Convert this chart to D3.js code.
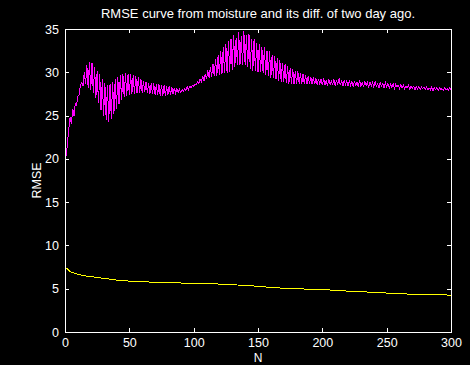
<!DOCTYPE html>
<html>
<head>
<meta charset="utf-8">
<script src="https://cdn.jsdelivr.net/npm/d3@7"></script>
<style>
  body { margin: 0; background: #000; }
  text { font-family: "Liberation Sans", Arial, sans-serif; fill: #fff; }
</style>
</head>
<body>
<div id="chart-area"></div>
<script>
var title = "RMSE curve from moisture and its diff. of two day ago.";
var xTicks = [0, 50, 100, 150, 200, 250, 300];
var yTicks = [0, 5, 10, 15, 20, 25, 30, 35];

// magenta series, one value per N = 1..300
var rmseDiff = [
    20.3, 22.0, 23.5, 24.8, 24.0, 25.8, 25.0, 26.4, 26.2, 27.2,
    27.4, 28.5, 28.8, 28.4, 30.0, 28.6, 30.8, 28.2, 31.2, 27.9,
    31.1, 27.6, 30.6, 27.0, 30.2, 26.4, 29.8, 25.6, 29.2, 25.0,
    28.8, 24.5, 28.5, 24.3, 28.6, 24.6, 28.9, 25.2, 29.2, 25.8,
    29.5, 26.3, 29.7, 26.8, 29.8, 27.1, 29.9, 27.3, 29.8, 27.4,
    29.8, 27.5, 29.7, 27.5, 29.6, 27.6, 29.4, 27.6, 29.2, 27.6,
    29.0, 27.7, 28.9, 27.6, 28.8, 27.5, 28.7, 27.5, 28.7, 27.4,
    28.6, 27.4, 28.6, 27.3, 28.5, 27.3, 28.5, 27.3, 28.4, 27.4,
    28.4, 27.4, 28.3, 27.5, 28.2, 27.6, 28.1, 27.7, 28.0, 27.7,
    28.0, 27.8, 28.1, 27.9, 28.3, 28.0, 28.4, 28.2, 28.5, 28.4,
    28.6, 28.6, 28.9, 28.7, 29.2, 28.9, 29.6, 29.0, 29.8, 29.2,
    30.2, 29.4, 30.6, 29.5, 31.0, 29.6, 31.5, 29.6, 32.0, 29.7,
    32.4, 29.8, 32.9, 29.9, 33.3, 29.9, 33.6, 30.0, 33.9, 30.3,
    34.3, 30.6, 34.0, 30.8, 34.6, 30.9, 34.2, 30.9, 34.8, 30.8,
    34.3, 30.6, 34.4, 30.4, 33.9, 30.2, 33.9, 30.1, 33.4, 30.0,
    33.3, 30.0, 32.9, 29.9, 32.9, 29.7, 32.5, 29.6, 32.4, 29.4,
    32.0, 29.3, 31.9, 29.2, 31.6, 29.0, 31.4, 28.9, 31.1, 28.9,
    30.9, 28.8, 30.7, 28.7, 30.5, 28.7, 30.4, 28.7, 30.2, 28.7,
    30.1, 28.7, 29.9, 28.6, 29.8, 28.6, 29.7, 28.6, 29.6, 28.6,
    29.5, 28.6, 29.4, 28.6, 29.3, 28.6, 29.2, 28.6, 29.2, 28.5,
    29.3, 28.5, 29.1, 28.4, 29.2, 28.6, 29.0, 28.5, 29.2, 28.4,
    29.1, 28.6, 29.3, 28.5, 29.0, 28.4, 29.1, 28.6, 29.0, 28.4,
    29.1, 28.5, 28.9, 28.3, 29.0, 28.5, 28.9, 28.3, 29.1, 28.4,
    28.8, 28.3, 29.0, 28.5, 28.8, 28.2, 28.9, 28.4, 28.8, 28.3,
    28.9, 28.4, 28.7, 28.2, 28.8, 28.4, 28.7, 28.2, 28.8, 28.3,
    28.7, 28.2, 28.6, 28.3, 28.7, 28.1, 28.6, 28.3, 28.5, 28.1,
    28.6, 28.2, 28.5, 28.1, 28.4, 28.2, 28.5, 28.0, 28.4, 28.2,
    28.4, 28.0, 28.3, 28.1, 28.4, 28.0, 28.3, 28.1, 28.3, 28.0,
    28.3, 28.0, 28.2, 28.0, 28.3, 27.9, 28.2, 28.0, 28.2, 27.9,
    28.2, 28.0, 28.1, 27.9, 28.2, 28.0, 28.1, 27.9, 28.2, 28.0
];

// yellow series, read at these N
var moistN = [1, 3, 5, 8, 10, 15, 20, 25, 30, 35, 40, 50, 60, 70, 85, 100, 110, 120, 135, 150, 160, 170, 185, 200, 210, 220, 230, 240, 250, 260, 270, 280, 290, 300];
var moistRmse = [7.4, 7.1, 6.9, 6.75, 6.65, 6.5, 6.4, 6.3, 6.2, 6.1, 6.0, 5.88, 5.8, 5.75, 5.68, 5.62, 5.58, 5.54, 5.42, 5.28, 5.15, 5.05, 4.97, 4.9, 4.82, 4.72, 4.65, 4.58, 4.5, 4.43, 4.36, 4.3, 4.28, 4.27];

var W = 470, H = 365;
var margin = { left: 65, right: 451, top: 29, bottom: 332 };
var fontSize = "12.5px";

var svg = d3.select("#chart-area")
    .append("svg")
    .attr("width", W)
    .attr("height", H)
    .style("background", "#000");

var x = d3.scaleLinear().domain([0, 300]).range([margin.left, margin.right]);
var y = d3.scaleLinear().domain([0, 35]).range([margin.bottom, margin.top]);

// data lines
var line = d3.line()
    .x(function(d) { return x(d[0]); })
    .y(function(d) { return y(d[1]); });

svg.append("path")
    .datum(rmseDiff.map(function(v, i) { return [i + 1, v]; }))
    .attr("fill", "none")
    .attr("stroke", "#ff00ff")
    .attr("stroke-width", 1)
    .attr("shape-rendering", "crispEdges")
    .attr("d", line);

svg.append("path")
    .datum(moistN.map(function(n, i) { return [n, moistRmse[i]]; }))
    .attr("fill", "none")
    .attr("stroke", "#ffff00")
    .attr("stroke-width", 1)
    .attr("shape-rendering", "crispEdges")
    .attr("d", line);

// axes (ticks inward, mirrored on top / right)
var tickLen = 4;
function styleAxis(g) {
    g.select(".domain").remove();
    g.selectAll("line").attr("stroke", "#fff").attr("shape-rendering", "crispEdges");
    g.selectAll("text").attr("fill", "#fff").attr("font-size", fontSize)
        .attr("font-family", "Liberation Sans, Arial, sans-serif");
}

svg.append("g")
    .attr("transform", "translate(0," + margin.bottom + ")")
    .call(d3.axisBottom(x).tickValues(xTicks).tickSize(-tickLen).tickPadding(6))
    .call(styleAxis);

svg.append("g")
    .attr("transform", "translate(0," + margin.top + ")")
    .call(d3.axisTop(x).tickValues(xTicks).tickSize(-tickLen).tickFormat(""))
    .call(styleAxis);

svg.append("g")
    .attr("transform", "translate(" + margin.left + ",0)")
    .call(d3.axisLeft(y).tickValues(yTicks).tickSize(-tickLen).tickPadding(6))
    .call(styleAxis);

svg.append("g")
    .attr("transform", "translate(" + margin.right + ",0)")
    .call(d3.axisRight(y).tickValues(yTicks).tickSize(-tickLen).tickFormat(""))
    .call(styleAxis);

svg.append("rect")
    .attr("x", margin.left + 0.5)
    .attr("y", margin.top + 0.5)
    .attr("width", margin.right - margin.left)
    .attr("height", margin.bottom - margin.top)
    .attr("fill", "none")
    .attr("stroke", "#fff")
    .attr("shape-rendering", "crispEdges");

// labels
svg.append("text")
    .attr("x", (margin.left + margin.right) / 2)
    .attr("y", 18)
    .attr("text-anchor", "middle")
    .attr("font-size", "13px")
    .text(title);

svg.append("text")
    .attr("x", (margin.left + margin.right) / 2)
    .attr("y", 362)
    .attr("text-anchor", "middle")
    .attr("font-size", "12px")
    .text("N");

svg.append("text")
    .attr("transform", "translate(41," + ((margin.top + margin.bottom) / 2) + ") rotate(-90)")
    .attr("text-anchor", "middle")
    .attr("font-size", fontSize)
    .text("RMSE");
</script>
</body>
</html>
